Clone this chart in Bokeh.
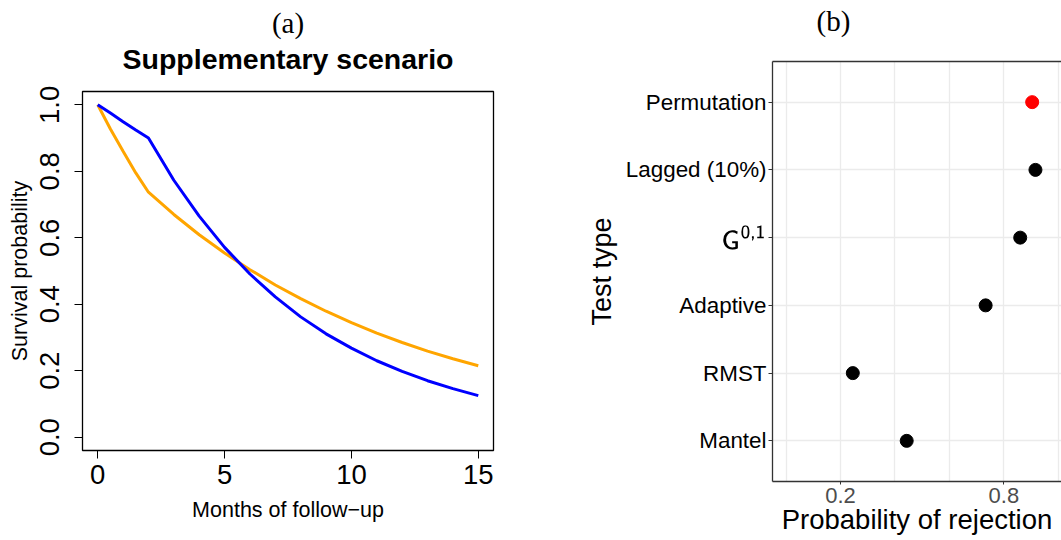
from bokeh.plotting import figure
from bokeh.layouts import row, column
from bokeh.models import Range1d, FixedTicker, PrintfTickFormatter, LinearAxis, Title, TeX
from bokeh.embed import file_html
from bokeh.resources import INLINE

# ---------------- data: panel (a) ----------------
months = [0, 0.5, 1, 1.5, 2, 3, 4, 5, 6, 7, 8, 9, 10, 11, 12, 13, 14, 15]
surv_orange = [1.000, 0.927, 0.860, 0.795, 0.737, 0.670, 0.609, 0.554, 0.504, 0.458,
               0.417, 0.379, 0.345, 0.313, 0.285, 0.259, 0.236, 0.215]
surv_blue = [1.000, 0.975, 0.949, 0.924, 0.900, 0.773, 0.665, 0.571, 0.491, 0.422,
             0.362, 0.311, 0.268, 0.230, 0.198, 0.170, 0.146, 0.125]
x_ticks_a = [0, 5, 10, 15]
y_ticks_a = [0.0, 0.2, 0.4, 0.6, 0.8, 1.0]
title_a = "Supplementary scenario"
xlab_a = "Months of follow\u2212up"
ylab_a = "Survival probability"

# ---------------- data: panel (b) ----------------
tests = ["Permutation", "Lagged (10%)", "G0,1", "Adaptive", "RMST", "Mantel"]  # top to bottom
tests_tex = {"G0,1": r"\mathsf{G}^{\mathsf{0,1}}"}
rejection = [0.904, 0.916, 0.860, 0.733, 0.245, 0.443]
highlight = "Permutation"
x_ticks_b = [0.2, 0.8]
x_grid_b = [0.0, 0.2, 0.4, 0.6, 0.8, 1.0]
x_lim_b = [-0.05, 1.05]
xlab_b = "Probability of rejection"
ylab_b = "Test type"

SANS = "Liberation Sans"
SERIF = "Liberation Serif"


def spacer_axis(gap, at, line_color=None):
    # axis in the "above" panel: draws the top border (if any) and reserves `gap` px
    # via an invisible, unlabeled tick
    return LinearAxis(ticker=FixedTicker(ticks=[at]), major_label_overrides={at: ""},
                      major_label_text_font_size="1px",
                      major_label_standoff=0, axis_label_standoff=0,
                      major_tick_out=gap, major_tick_in=0, minor_tick_out=0, minor_tick_in=0,
                      major_tick_line_color=None, axis_line_color=line_color,
                      axis_line_width=1.3)


# ================= panel (a) =================
span = max(months) - min(months)
xa0, xa1 = min(months) - 0.04 * span, max(months) + 0.04 * span
ya0, ya1 = min(y_ticks_a) - 0.04, max(y_ticks_a) + 0.04

p1 = figure(width=580, height=540, x_range=Range1d(xa0, xa1), y_range=Range1d(ya0, ya1),
            title=None, output_backend="svg", toolbar_location=None,
            min_border_left=82, min_border_right=87, min_border_top=91, min_border_bottom=90)
p1.line(months, surv_orange, line_color="#FFA500", line_width=3)
p1.line(months, surv_blue, line_color="#0000FF", line_width=3)
p1.grid.visible = False
p1.outline_line_color = "black"
p1.outline_line_width = 1.3
p1.outline_line_alpha = 1.0
p1.background_fill_color = "white"
p1.border_fill_color = "white"

for ax in (p1.xaxis[0], p1.yaxis[0]):
    ax.axis_line_color = None
    ax.major_tick_out = 8
    ax.major_tick_in = 0
    ax.minor_tick_out = 0
    ax.minor_tick_in = 0
    ax.major_tick_line_color = "black"
    ax.major_tick_line_width = 1
    ax.major_label_text_font = SANS
    ax.major_label_text_font_size = "27.5px"
    ax.major_label_text_color = "black"
    ax.axis_label_text_font = SANS
    ax.axis_label_text_font_size = "21.5px"
    ax.axis_label_text_font_style = "normal"
    ax.axis_label_text_color = "black"

p1.xaxis.ticker = FixedTicker(ticks=x_ticks_a)
p1.yaxis.ticker = FixedTicker(ticks=y_ticks_a)
p1.yaxis.formatter = PrintfTickFormatter(format="%.1f")
p1.yaxis.major_label_orientation = "vertical"
p1.xaxis.axis_label = xlab_a
p1.yaxis.axis_label = ylab_a
p1.xaxis.major_label_standoff = 6
p1.yaxis.major_label_standoff = 15
p1.xaxis.axis_label_standoff = 11
p1.yaxis.axis_label_standoff = 6

p1.add_layout(spacer_axis(17, (xa0 + xa1) / 2), "above")
p1.add_layout(Title(text=title_a, align="center", text_font=SANS, text_font_size="28.5px",
                    text_font_style="bold", text_color="black", standoff=0), "above")
p1.add_layout(Title(text="(a)", align="center", text_font=SERIF, text_font_size="29px",
                    text_font_style="normal", text_color="black", standoff=4), "above")

# ================= panel (b) =================
n = len(tests)
y_pos = [n - i for i in range(n)]
yb0, yb1 = 0.4, n + 0.6
xb0, xb1 = x_lim_b[0], 1.0117

p2 = figure(width=481, height=540, x_range=Range1d(xb0, xb1), y_range=Range1d(yb0, yb1),
            title=None, output_backend="svg", toolbar_location=None,
            min_border_left=192, min_border_right=0, min_border_top=61, min_border_bottom=59)
p2.outline_line_color = None
p2.background_fill_color = "white"
p2.border_fill_color = "white"

p2.xgrid.ticker = FixedTicker(ticks=x_grid_b)
p2.ygrid.ticker = FixedTicker(ticks=y_pos)
p2.grid.grid_line_color = "#EBEBEB"
p2.grid.grid_line_width = 1.3

colors = ["#FF0000" if t == highlight else "black" for t in tests]
p2.scatter(rejection, y_pos, size=13, color=colors)

for ax in (p2.xaxis[0], p2.yaxis[0]):
    ax.axis_line_color = "#333333"
    ax.axis_line_width = 1.3
    ax.major_tick_in = 0
    ax.minor_tick_out = 0
    ax.minor_tick_in = 0
    ax.major_tick_line_color = "#333333"
    ax.major_tick_line_width = 1
    ax.major_label_text_font = SANS
    ax.axis_label_text_font = SANS
    ax.axis_label_text_font_style = "normal"
    ax.axis_label_text_color = "black"

p2.xaxis.ticker = FixedTicker(ticks=x_ticks_b)
p2.xaxis.major_tick_out = 3
p2.xaxis.major_label_standoff = 3
p2.xaxis.major_label_text_font_size = "22px"
p2.xaxis.major_label_text_color = "#4D4D4D"
p2.xaxis.axis_label = xlab_b
p2.xaxis.axis_label_text_font_size = "27.5px"
p2.xaxis.axis_label_standoff = -2

p2.yaxis.ticker = FixedTicker(ticks=y_pos)
p2.yaxis.major_tick_out = 4
p2.yaxis.major_label_standoff = 2
p2.yaxis.major_label_text_font_size = "22.4px"
p2.yaxis.major_label_text_color = "black"
p2.yaxis.major_label_overrides = {
    float(yv): (TeX(text=tests_tex[t]) if t in tests_tex else t) for t, yv in zip(tests, y_pos)
}
p2.yaxis.axis_label = ylab_b
p2.yaxis.axis_label_text_font_size = "27px"
p2.yaxis.axis_label_standoff = 6

p2.add_layout(spacer_axis(25, 0.5, line_color="#333333"), "above")
p2.add_layout(Title(text="(b)", align="left", offset=44, text_font=SERIF, text_font_size="29px",
                    text_font_style="normal", text_color="black", standoff=0), "above")

layout = row(column(p1), column(p2))
open("out.html", "w", encoding="utf-8").write(file_html(layout, INLINE))
